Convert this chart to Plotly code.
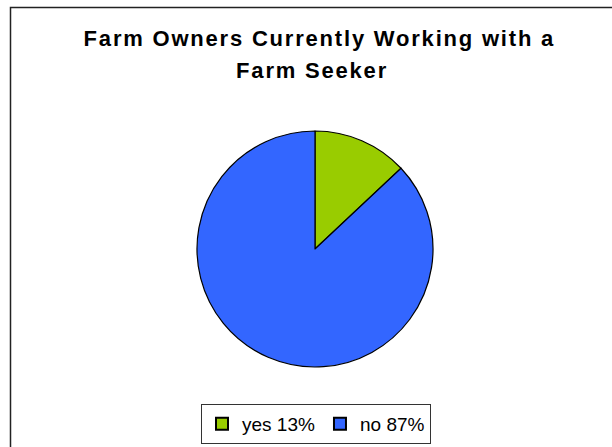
import plotly.graph_objects as go

# Survey answers and their shares (percent)
answers = ["yes", "no"]
shares = [13, 87]
slice_colors = ["#99CC00", "#3366FF"]

title_lines = ["Farm Owners Currently Working with a", "Farm Seeker"]
title_centers_px = [319, 312]

W, H = 612, 447

labels = [f"{a} {s}%" for a, s in zip(answers, shares)]

fig = go.Figure(
    go.Pie(
        labels=labels,
        values=shares,
        sort=False,
        direction="clockwise",
        rotation=0,
        textinfo="none",
        hoverinfo="label",
        marker=dict(colors=slice_colors, line=dict(color="black", width=1.2)),
        domain=dict(x=[197 / W, 433 / W], y=[80 / H, 316 / H]),
    )
)

# Outer chart-area frame
fig.add_shape(
    type="rect", xref="paper", yref="paper",
    x0=10.5 / W, x1=1.02, y0=-0.02, y1=(H - 7.5) / H,
    line=dict(color="#222222", width=1.5), fillcolor="rgba(0,0,0,0)",
)

# Two-line bold title
for i, (line, cx) in enumerate(zip(title_lines, title_centers_px)):
    fig.add_annotation(
        text=f"<b>{line}</b>", xref="paper", yref="paper",
        x=cx / W, y=(H - 38.5 - 32 * i) / H, xanchor="center", yanchor="middle",
        showarrow=False, font=dict(size=22, color="black", family="Liberation Sans, Arial"),
    )

fig.update_layout(
    width=W, height=H,
    margin=dict(l=0, r=0, t=0, b=0),
    paper_bgcolor="white",
    plot_bgcolor="white",
    font=dict(family="Liberation Sans, Arial", color="black"),
    showlegend=True,
    legend=dict(
        orientation="h",
        x=316 / W, xanchor="center",
        y=(H - 404) / H, yanchor="top",
        bordercolor="#333333", borderwidth=1,
        font=dict(size=19),
        itemsizing="constant",
        itemwidth=30,
        tracegroupgap=0,
    ),
)

# Looser tracking for the title text
tracking_js = (
    "document.getElementById('{plot_id}').querySelectorAll('.annotation-text')"
    ".forEach(function(t){t.style.letterSpacing='1.8px';});"
)

fig.write_html("out.html", post_script=tracking_js)
